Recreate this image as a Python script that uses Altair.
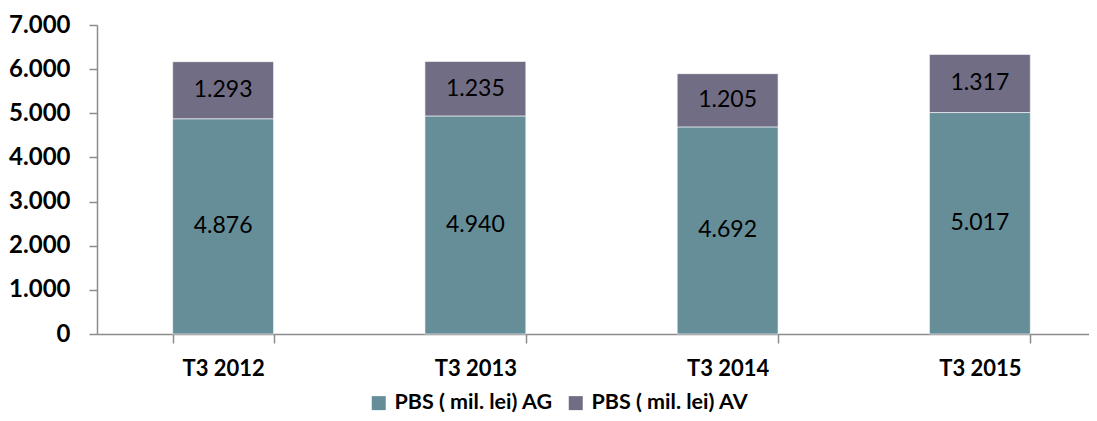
import altair as alt
import pandas as pd

categories = ["T3 2012", "T3 2013", "T3 2014", "T3 2015"]
series = ["PBS ( mil. lei) AG", "PBS ( mil. lei) AV"]
ag_values = [4876, 4940, 4692, 5017]
av_values = [1293, 1235, 1205, 1317]
colors = ["#668E99", "#716D85"]
y_ticks = [0, 1000, 2000, 3000, 4000, 5000, 6000, 7000]

rows = []
for c, a, v in zip(categories, ag_values, av_values):
    rows.append({"cat": c, "series": series[0], "value": a, "order": 0})
    rows.append({"cat": c, "series": series[1], "value": v, "order": 1})
df = pd.DataFrame(rows)
df["label"] = df["value"].map(lambda v: f"{v:,}".replace(",", "."))

FONT = "Lato"
AXIS_COLOR = "#8c8c8c"

x_axis = alt.Axis(
    title=None, tickBand="extent", labelAngle=0, labelFont=FONT,
    labelFontSize=22, labelFontWeight="bold", labelColor="black",
    labelPadding=15, tickSize=9, domainColor=AXIS_COLOR, tickColor=AXIS_COLOR,
    domainWidth=1.5, tickWidth=1.5, grid=False,
)
y_axis = alt.Axis(
    title=None, values=y_ticks, grid=False,
    labelExpr="replace(format(datum.value, ','), ',', '.')",
    labelFont=FONT, labelFontSize=24, labelFontWeight="bold",
    labelColor="black", labelPadding=19, tickSize=8,
    domainColor=AXIS_COLOR, tickColor=AXIS_COLOR, domainWidth=1.5, tickWidth=1.5,
)
x_scale = alt.Scale(range=[0, 1009], paddingInner=0.6, paddingOuter=0.3)
y_scale = alt.Scale(domain=[0, 7000], nice=False)

base = alt.Chart(df)

bars = base.mark_bar(stroke="white", strokeWidth=1, strokeOpacity=0.6).encode(
    x=alt.X("cat:N", sort=categories, scale=x_scale, axis=x_axis),
    y=alt.Y("value:Q", stack="zero", scale=y_scale, axis=y_axis),
    color=alt.Color(
        "series:N",
        scale=alt.Scale(domain=series, range=colors),
        legend=alt.Legend(
            title=None, orient="none", legendX=271, legendY=367,
            direction="horizontal", symbolType="square", symbolSize=196,
            labelFont=FONT, labelFontSize=21.5, labelFontWeight="bold",
            labelColor="black", columnPadding=12, labelOffset=5, padding=0,
            symbolStrokeWidth=0, symbolOpacity=1, labelLimit=300,
        ),
    ),
    order=alt.Order("order:Q"),
)

text = (
    base.transform_stack(
        stack="value", groupby=["cat"], as_=["y0", "y1"],
        sort=[alt.SortField("order")],
    )
    .transform_calculate(mid="(datum.y0 + datum.y1) / 2")
    .mark_text(font=FONT, fontSize=23, color="black")
    .encode(
        x=alt.X("cat:N", sort=categories, scale=x_scale, axis=x_axis),
        y=alt.Y("mid:Q", scale=y_scale, axis=y_axis),
        text="label:N",
    )
)

chart = (
    alt.layer(bars, text)
    .properties(
        width=992, height=309,
        autosize=alt.AutoSizeParams(type="none"),
        padding={"left": 89, "top": 17, "right": 0, "bottom": 79},
    )
    .configure_view(stroke=None)
)

chart.save("out.html", embed_options={"renderer": "svg", "actions": False})
